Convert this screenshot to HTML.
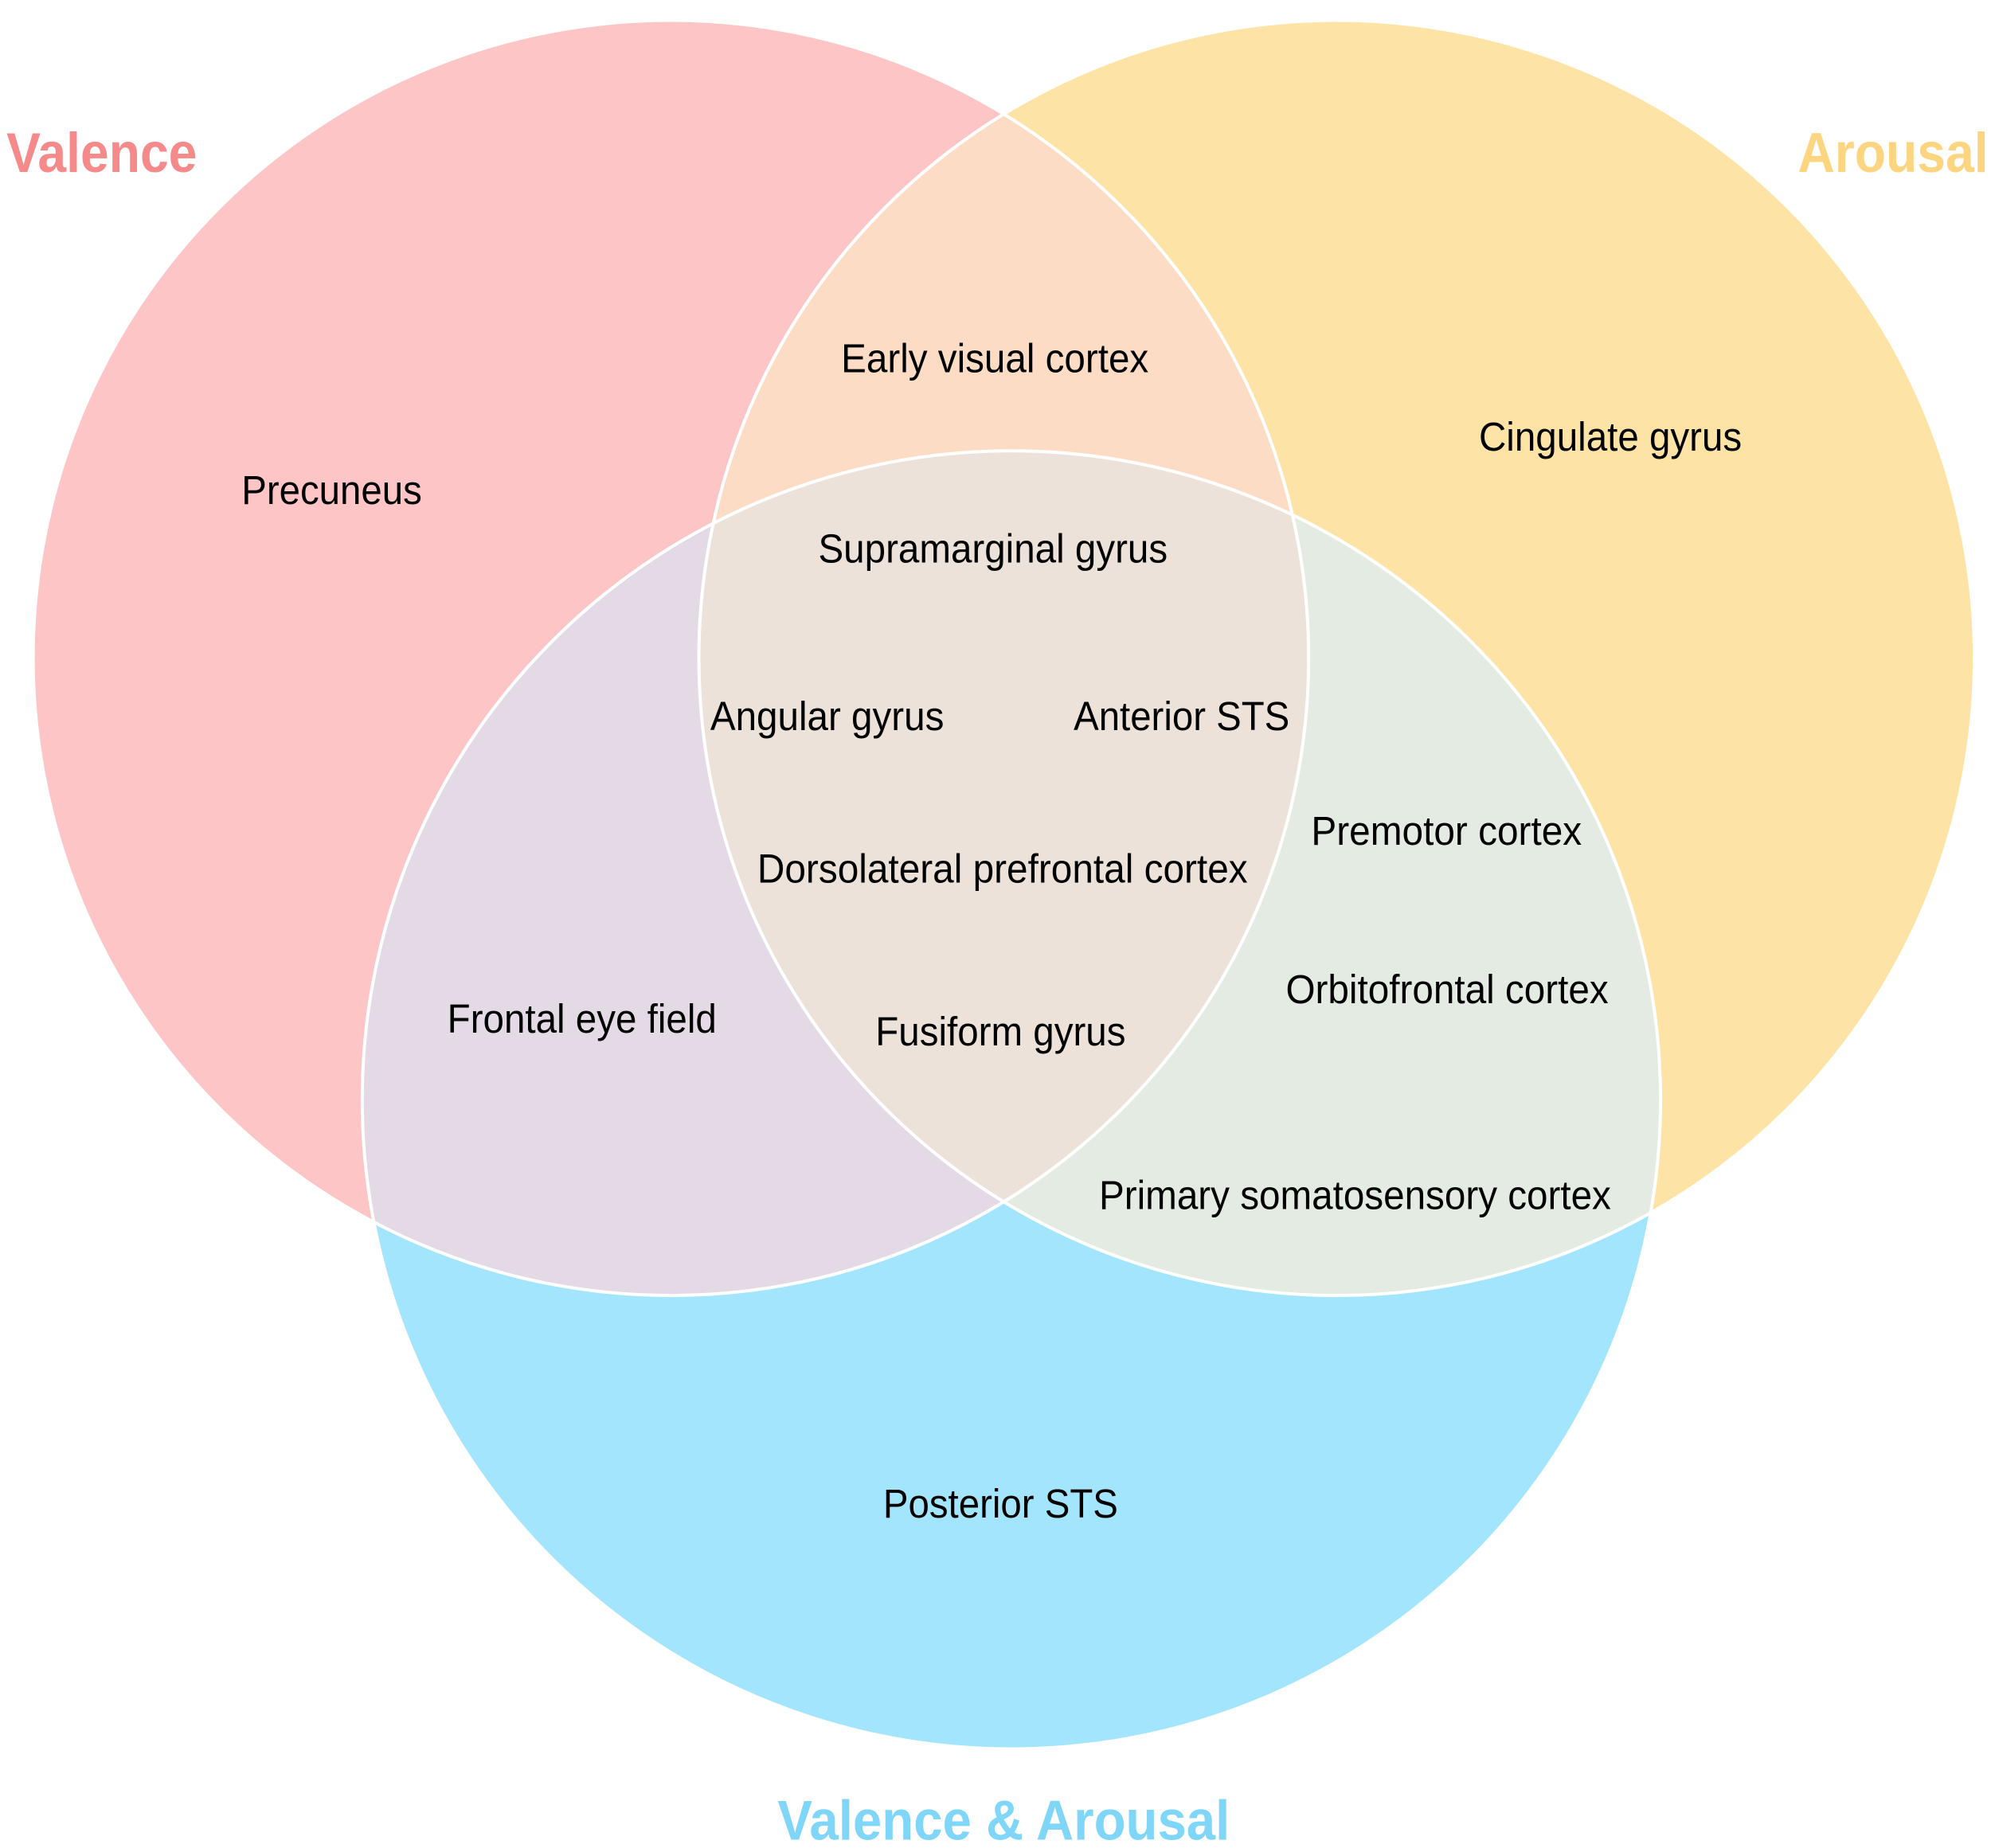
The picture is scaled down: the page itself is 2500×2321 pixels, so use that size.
<!DOCTYPE html>
<html><head><meta charset="utf-8"><style>html,body{margin:0;padding:0;background:#fff}svg{display:block}</style></head>
<body>
<svg width="2500" height="2321" viewBox="0 0 1567 1455" xmlns="http://www.w3.org/2000/svg">
<defs>
<clipPath id="cv"><circle cx="528" cy="518" r="502"/></clipPath>
<clipPath id="ca"><circle cx="1052" cy="518" r="502"/></clipPath>
<clipPath id="cb"><circle cx="796" cy="866" r="511"/></clipPath>
</defs>
<circle cx="528" cy="518" r="502" fill="#fdc5c5"/>
<circle cx="1052" cy="518" r="502" fill="#fde3a5"/>
<circle cx="796" cy="866" r="511" fill="#a3e5fd"/>
<g clip-path="url(#cv)"><circle cx="1052" cy="518" r="502" fill="#fddcc6"/><circle cx="796" cy="866" r="511" fill="#e3dae6"/></g>
<g clip-path="url(#ca)"><circle cx="796" cy="866" r="511" fill="#e3ebe2"/></g>
<g clip-path="url(#cv)"><g clip-path="url(#ca)"><circle cx="796" cy="866" r="511" fill="#ece2d9"/></g></g>
<g fill="none" stroke="#fff" stroke-width="2.5">
<circle cx="528" cy="518" r="502"/><circle cx="1052" cy="518" r="502"/><circle cx="796" cy="866" r="511"/>
</g>
<g font-family="Liberation Sans, Arial, sans-serif" font-weight="bold" font-size="44" dominant-baseline="central">
<text x="5" y="120" fill="#f58a8a" textLength="150" lengthAdjust="spacingAndGlyphs">Valence</text>
<text x="1415" y="120" fill="#fdd580" textLength="150" lengthAdjust="spacingAndGlyphs">Arousal</text>
<text x="612" y="1433" fill="#7fd6f8" textLength="356" lengthAdjust="spacingAndGlyphs">Valence &amp; Arousal</text>
</g>
<g font-family="Liberation Sans, Arial, sans-serif" font-size="32" fill="#000" dominant-baseline="central">
<text x="662" y="282" textLength="242" lengthAdjust="spacingAndGlyphs">Early visual cortex</text>
<text x="1164" y="344" textLength="207" lengthAdjust="spacingAndGlyphs">Cingulate gyrus</text>
<text x="190" y="386" textLength="142" lengthAdjust="spacingAndGlyphs">Precuneus</text>
<text x="644" y="432" textLength="275" lengthAdjust="spacingAndGlyphs">Supramarginal gyrus</text>
<text x="559" y="564" textLength="184" lengthAdjust="spacingAndGlyphs">Angular gyrus</text>
<text x="845" y="564" textLength="170" lengthAdjust="spacingAndGlyphs">Anterior STS</text>
<text x="1032" y="654" textLength="213" lengthAdjust="spacingAndGlyphs">Premotor cortex</text>
<text x="596" y="684" textLength="386" lengthAdjust="spacingAndGlyphs">Dorsolateral prefrontal cortex</text>
<text x="1012" y="779" textLength="254" lengthAdjust="spacingAndGlyphs">Orbitofrontal cortex</text>
<text x="352" y="802" textLength="212" lengthAdjust="spacingAndGlyphs">Frontal eye field</text>
<text x="689" y="812" textLength="197" lengthAdjust="spacingAndGlyphs">Fusiform gyrus</text>
<text x="865" y="941" textLength="403" lengthAdjust="spacingAndGlyphs">Primary somatosensory cortex</text>
<text x="695" y="1184" textLength="185" lengthAdjust="spacingAndGlyphs">Posterior STS</text>
</g>
</svg>
</body></html>
